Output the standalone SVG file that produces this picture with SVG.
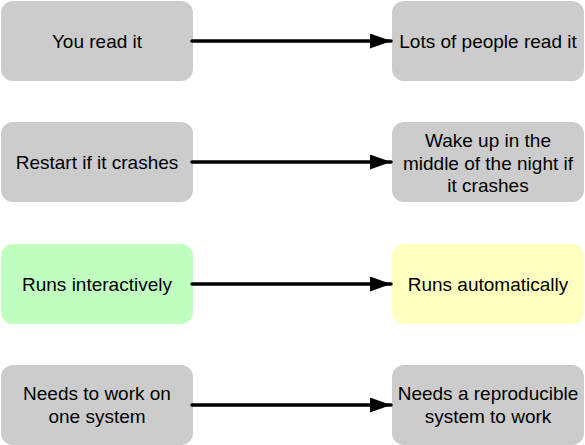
<svg xmlns="http://www.w3.org/2000/svg" width="585" height="445" viewBox="0 0 585 445">
<defs>
<marker id="ah" viewBox="0 0 21 15" refX="21" refY="7.5" markerWidth="21" markerHeight="15" markerUnits="userSpaceOnUse" orient="auto">
<path d="M0,0 L21,7.5 L0,15 Z" fill="#000"/>
</marker>
</defs>
<style>
.box{fill:#cccccc;}
.green{fill:#c0ffc0;}
.yellow{fill:#ffffc0;}
text{font-family:"Liberation Sans",Arial,Helvetica,sans-serif;font-size:19px;fill:#000;text-anchor:middle;}
.conn{stroke:#000;stroke-width:3.5;fill:none;stroke-linecap:round;}
</style>
<g id="n1"><rect class="box" x="1" y="1" width="192" height="80" rx="12"/><text x="97" y="48">You read it</text></g>
<g id="n2"><rect class="box" x="392" y="1" width="192" height="80" rx="12"/><text x="488" y="48">Lots of people read it</text></g>
<g id="n3"><rect class="box" x="1" y="122" width="192" height="80" rx="12"/><text x="97" y="169">Restart if it crashes</text></g>
<g id="n4"><rect class="box" x="392" y="122" width="192" height="80" rx="12"/><text x="488" y="147">Wake up in the</text><text x="488" y="169.5">middle of the night if</text><text x="488" y="192">it crashes</text></g>
<g id="n5"><rect class="box green" x="1" y="244" width="192" height="80" rx="12"/><text x="97" y="291">Runs interactively</text></g>
<g id="n6"><rect class="box yellow" x="392" y="244" width="192" height="80" rx="12"/><text x="488" y="291">Runs automatically</text></g>
<g id="n7"><rect class="box" x="1" y="365" width="192" height="80" rx="12"/><text x="97" y="400">Needs to work on</text><text x="97" y="422.5">one system</text></g>
<g id="n8"><rect class="box" x="392" y="365" width="192" height="80" rx="12"/><text x="488" y="400">Needs a reproducible</text><text x="488" y="422.5">system to work</text></g>
<g id="connectors">
<line class="conn" x1="192" y1="41" x2="391" y2="41" marker-end="url(#ah)"/>
<line class="conn" x1="192" y1="162" x2="391" y2="162" marker-end="url(#ah)"/>
<line class="conn" x1="192" y1="284" x2="391" y2="284" marker-end="url(#ah)"/>
<line class="conn" x1="192" y1="405" x2="391" y2="405" marker-end="url(#ah)"/>
</g>
</svg>
